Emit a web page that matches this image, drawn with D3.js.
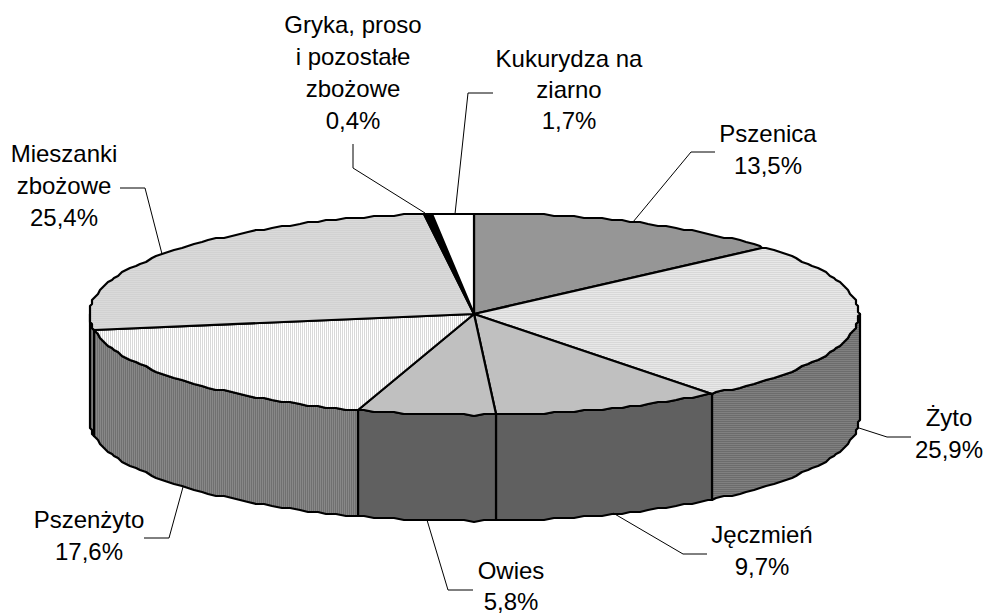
<!DOCTYPE html>
<html><head><meta charset="utf-8">
<script src="https://cdnjs.cloudflare.com/ajax/libs/d3/7.8.5/d3.min.js"></script>
<style>html,body{margin:0;padding:0;background:#fff}svg{display:block}text{font-family:"Liberation Sans",Arial,sans-serif;font-size:24px;fill:#000;text-anchor:middle}</style>
</head><body><svg id="c" width="984" height="614"></svg>
<script>
const categories=["Pszenica","Żyto","Jęczmień","Owies","Pszenżyto","Mieszanki zbożowe","Gryka, proso i pozostałe zbożowe","Kukurydza na ziarno"];
const values=[13.5,25.9,9.7,5.8,17.6,25.4,0.4,1.7];
const valueLabels=["13,5%","25,9%","9,7%","5,8%","17,6%","25,4%","0,4%","1,7%"];
const labelLines=[["Pszenica"],["Żyto"],["Jęczmień"],["Owies"],["Pszenżyto"],["Mieszanki","zbożowe"],["Gryka, proso","i pozostałe","zbożowe"],["Kukurydza na","ziarno"]];

// layout
const cx=474,cy=314,rx=385,ry=101,depth=106;
const labelPos=[[768,142],[949,426],[762,543],[511,579],[89,528],[64,162],[353,33],[569,67]];
const lineGap=[32,32,32,31,32,32,32,31];
const leaders=[
 [[633,222],[691,152],[715,152]],
 [[859,428],[887,437],[911,437]],
 [[613,513],[683,554],[707,554]],
 [[427,520],[448,590],[473,590]],
 [[183,487],[169,538],[144,538]],
 [[162,254],[145,188],[120,188]],
 [[425,213],[353,168],[353,144]],
 [[455,214],[468,93],[493,93]]];
const topFill=["#969696","url(#hLight)","#c0c0c0","#c0c0c0","url(#vLight)","url(#hMid)","#000","#fff"];
const sideFill=["#4b4b4b","url(#hDark)","#606060","#606060","url(#vDark)","url(#vDark)","#000","#fff"];

const svg=d3.select("#c");
const defs=svg.append("defs");
function pat(id,bg,fg,horizontal){
  const p=defs.append("pattern").attr("id",id).attr("patternUnits","userSpaceOnUse").attr("width",2).attr("height",2);
  p.append("rect").attr("width",2).attr("height",2).attr("fill",bg);
  p.append("rect").attr("width",horizontal?2:1).attr("height",horizontal?1:2).attr("fill",fg);
}
pat("hLight","#e8e8e8","#d8d8d8",true);
pat("hMid","#dadada","#d2d2d2",true);
pat("vLight","#ffffff","#d8d8d8",false);
pat("hDark","#6c6c6c","#808080",true);
pat("vDark","#707070","#888888",false);

const arcs=d3.pie().sort(null).value(d=>d).startAngle(0).endAngle(2*Math.PI)(values);
const GRID=2;
const snap=v=>Math.round(v/GRID)*GRID;
const px=a=>snap(cx+rx*Math.sin(a));
const py=(a,dz=0)=>snap(cy-ry*Math.cos(a))+dz;
const STEP=Math.PI/120;
// angles on one shared grid, so that neighbouring faces follow the same edge
function edge(a0,a1,dz){
  const lo=Math.min(a0,a1),hi=Math.max(a0,a1),as=[lo];
  for(let k=Math.ceil(lo/STEP+1e-6);k*STEP<hi-1e-6;k++)as.push(k*STEP);
  as.push(hi);
  if(a0>a1)as.reverse();
  return as.map(a=>[px(a),py(a,dz)]);
}
const line=d3.line();
// side faces
arcs.forEach((d,i)=>{
  const a0=Math.max(d.startAngle,Math.PI/2),a1=Math.min(d.endAngle,3*Math.PI/2);
  if(a1<=a0)return;
  const pts=edge(a0,a1,0).concat(edge(a1,a0,depth));
  svg.append("path").attr("d",line(pts)+"Z").attr("fill",sideFill[i]).attr("stroke","#000").attr("stroke-width",2.2).attr("stroke-linejoin","round");
});
// top faces
arcs.forEach((d,i)=>{
  const pts=[[cx,cy]].concat(edge(d.startAngle,d.endAngle,0));
  svg.append("path").attr("d",line(pts)+"Z").attr("fill",topFill[i]).attr("stroke","#000").attr("stroke-width",2.2).attr("stroke-linejoin","round");
});
// leaders
leaders.forEach(l=>svg.append("path").attr("d",line(l)).attr("fill","none").attr("stroke","#000").attr("stroke-width",1));
// labels
categories.forEach((c,i)=>{
  const t=svg.append("text").attr("x",labelPos[i][0]).attr("y",labelPos[i][1]);
  labelLines[i].concat([valueLabels[i]]).forEach((s,j)=>t.append("tspan").attr("x",labelPos[i][0]).attr("dy",j?lineGap[i]:0).text(s));
});
</script></body></html>
